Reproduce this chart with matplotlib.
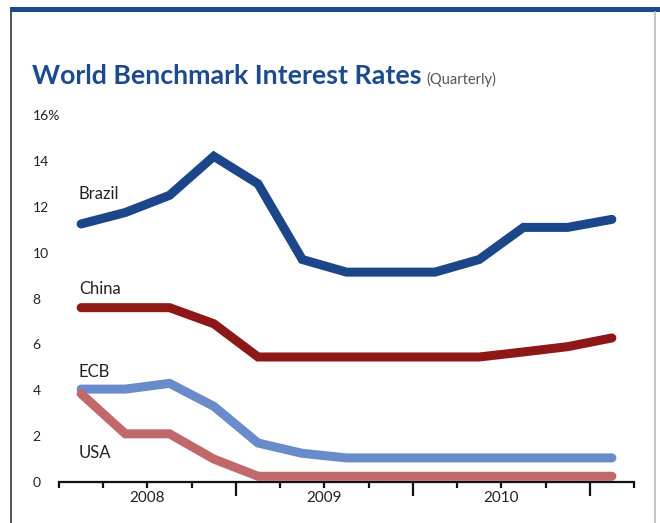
"""
World benchmark interest rates, quarterly, 2008 - Q1 2011.
Run: python plot.py  -> out.png
"""

import matplotlib.pyplot as plt
from matplotlib.lines import Line2D
from matplotlib.patches import Rectangle
from matplotlib.transforms import blended_transform_factory

OUT_PATH = "out.png"

# quarter index 0 = Q1 2008 ... 12 = Q1 2011
quarters = list(range(13))
brazil = [11.25, 11.75, 12.5, 14.2, 13.0, 9.7, 9.15, 9.15, 9.15, 9.7, 11.1, 11.1, 11.45]
china = [7.6, 7.6, 7.6, 6.9, 5.45, 5.45, 5.45, 5.45, 5.45, 5.45, 5.67, 5.9, 6.28]
ecb = [4.05, 4.05, 4.3, 3.3, 1.7, 1.25, 1.05, 1.05, 1.05, 1.05, 1.05, 1.05, 1.05]
usa = [3.85, 2.1, 2.1, 1.0, 0.25, 0.25, 0.25, 0.25, 0.25, 0.25, 0.25, 0.25, 0.25]

series_names = ["Brazil", "China", "ECB", "USA"]
series_colors = ["#1b4689", "#8e1818", "#6a8bc9", "#c1686b"]
label_y = [12.55, 8.4, 4.8, 1.25]

years = ["2008", "2009", "2010"]
y_ticks = [0, 2, 4, 6, 8, 10, 12, 14, 16]
y_labels = ["0", "2", "4", "6", "8", "10", "12", "14", "16%"]

W, H = 660, 523
FONT = ["Lato", "DejaVu Sans"]
TITLE_FONT = ["Liberation Sans Narrow", "Lato", "DejaVu Sans"]
TITLE_WIDTH = 390  # px


def px(x, y):
    """pixel position (from top-left) -> figure fraction"""
    return x / W, 1 - y / H


def main():
    fig = plt.figure(figsize=(W / 100, H / 100), dpi=100)

    # --- page frame: blue top rule, thin side borders ---
    x0, y0 = px(10, 12)
    fig.add_artist(Rectangle((x0, y0), 1 - x0, 5 / H, transform=fig.transFigure,
                             facecolor="#1d4a8c", edgecolor="none"))
    fig.add_artist(Line2D([11 / W, 11 / W], [0, y0], transform=fig.transFigure,
                          color="#333333", lw=1.2))
    fig.add_artist(Line2D([655 / W, 655 / W], [0, y0], transform=fig.transFigure,
                          color="#bbbbbb", lw=1.2))

    # --- title, sized to fill its slot ---
    tx, ty = px(32, 84)
    title = fig.text(tx, ty, "World Benchmark Interest Rates", family=TITLE_FONT,
                     fontsize=24, fontweight="bold", color="#1d4a8c", va="baseline")
    fig.canvas.draw()
    bb = title.get_window_extent()
    title.set_fontsize(24 * TITLE_WIDTH / bb.width)
    fig.canvas.draw()
    bb = title.get_window_extent()
    fig.text(bb.x1 / W + 5 / W, ty, "(Quarterly)", family=FONT, fontsize=10.5,
             color="#555555", va="baseline")

    # --- axes ---
    left, bottom = px(59, 482)
    right, top = px(634, 115)
    ax = fig.add_axes([left, bottom, right - left, top - bottom])
    ax.set_xlim(0, 13)
    ax.set_ylim(0, 16)

    for name, vals, color, ly in zip(series_names, [brazil, china, ecb, usa],
                                     series_colors, label_y):
        xs = [q + 0.5 for q in quarters]
        ax.plot(xs, vals, color=color, lw=6.5, solid_capstyle="round",
                solid_joinstyle="miter", clip_on=False)
        ax.text(0.45, ly, name, family=FONT, fontsize=12, color="#222222",
                ha="left", va="center")

    for side in ["top", "right", "left"]:
        ax.spines[side].set_visible(False)
    ax.spines["bottom"].set_linewidth(1.6)
    ax.spines["bottom"].set_color("#111111")

    ax.set_yticks(y_ticks)
    ax.set_yticklabels(y_labels, family=FONT, fontsize=10, color="#222222", ha="left")
    ax.tick_params(axis="y", length=0, pad=19)

    # tall ticks at year boundaries, short ticks at quarters
    ax.set_xticks([4, 8, 12])
    ax.set_xticks([q for q in range(14) if q not in (4, 8, 12)], minor=True)
    ax.set_xticklabels([])
    ax.tick_params(axis="x", which="major", direction="out", length=10, width=1.6,
                   color="#111111")
    ax.tick_params(axis="x", which="minor", direction="out", length=4.5, width=1.6,
                   color="#111111")

    trans = blended_transform_factory(ax.transData, fig.transFigure)
    for i, yr in enumerate(years):
        ax.text(2 + 4 * i, 1 - 498 / H, yr, transform=trans, family=FONT,
                fontsize=11, color="#222222", ha="center", va="center")

    fig.savefig(OUT_PATH, dpi=100)
    plt.close(fig)


if __name__ == "__main__":
    main()
